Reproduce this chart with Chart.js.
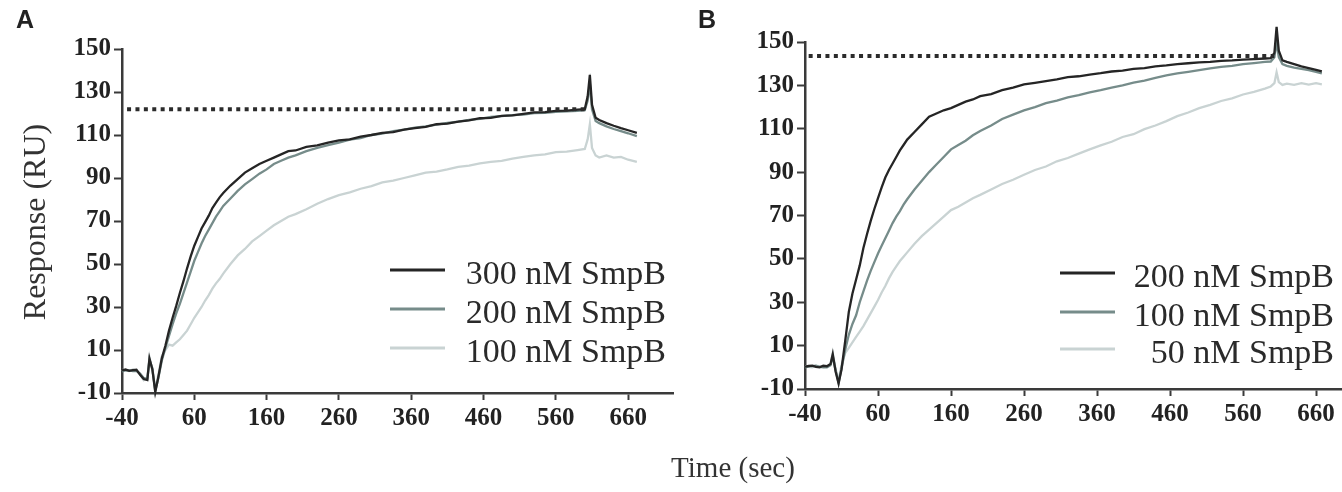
<!DOCTYPE html>
<html>
<head>
<meta charset="utf-8">
<title>SmpB binding sensorgrams</title>
<script src="https://cdn.jsdelivr.net/npm/chart.js@4.4.1/dist/chart.umd.min.js"></script>
<style>
  body { margin: 0; background: #fff; }
  #page { position: relative; width: 1342px; height: 492px; overflow: hidden; font-family: 'Liberation Serif', serif; color: #2a2a2a; }
  canvas { position: absolute; top: 0; }
  #chartA { left: 0; }
  #chartB { left: 690px; }
  .panel { position: absolute; top: 7px; font: bold 25px 'Liberation Sans', Arial, sans-serif; line-height: 1; color: #222; }
  #ylab { position: absolute; left: 34px; top: 222px; transform: translate(-50%, -50%) rotate(-90deg); font-size: 32px; line-height: 1; white-space: nowrap; color: #333; }
  #xlab { position: absolute; left: 733px; top: 453px; transform: translateX(-50%); font-size: 29px; line-height: 1; white-space: nowrap; color: #333; }
</style>
</head>
<body>
<div id="page">
  <canvas id="chartA" width="700" height="492"></canvas>
  <canvas id="chartB" width="652" height="492"></canvas>
  <div class="panel" style="left:16px">A</div>
  <div class="panel" style="left:698px">B</div>
  <div id="ylab">Response (RU)</div>
  <div id="xlab">Time (sec)</div>
</div>
<script>
// tick labels shared by both panels
const xTicks = [-40, 60, 160, 260, 360, 460, 560, 660];
const yTicks = [-10, 10, 30, 50, 70, 90, 110, 130, 150];

// Panel A: time (sec) and response (RU)
const timeA = [-40, -35, -30, -25, -20, -15, -10, -5, -2, 2, 6, 10, 15, 20, 25, 30, 35, 40, 45, 50,
  55, 60, 65, 70, 75, 80, 85, 90, 95, 100, 110, 120, 130, 140, 150, 160, 170, 180, 190, 200,
  215, 230, 245, 260, 275, 290, 305, 320, 335, 350, 365, 380, 395, 410, 425, 440, 455, 470, 485, 500,
  515, 530, 545, 560, 575, 590, 600, 604, 607, 610, 615, 620, 630, 640, 650, 660, 672];
const smpb300A = [0.5, 0.9, 0.3, 0.6, 0.8, -1.5, -3.5, -4, 6, 1, -9.5, -3, 6, 12, 19, 25, 30.5, 36.5, 42, 48,
  53.5, 58.5, 62.5, 66.5, 69.5, 72.5, 76, 78.5, 81, 83, 86.5, 89.5, 92.5, 94.5, 96.5, 98, 99.5, 101, 102.5, 102.8,
  104.5, 105.2, 106.5, 107.5, 108, 109.2, 110, 111, 111.3, 112.5, 113.2, 113.8, 115, 115.3, 116.2, 116.8, 117.8, 118, 118.9, 119.1,
  119.8, 120.5, 120.6, 121.2, 121.3, 121.8, 122, 128, 138, 124, 118, 117, 115.5, 114.3, 113.2, 112.2, 111];
const smpb200A = [0, 0.6, 0.5, 0.2, 0.3, -1, -3, -3.5, 5.5, 1.5, -9, -3.5, 5, 11, 16.5, 22, 27, 31.5, 36.5, 41.5,
  46.5, 51.5, 55.5, 59.5, 63, 66, 69, 72, 74.5, 77, 80.5, 84, 87, 89.5, 92, 94, 96.5, 98, 99.5, 100.5,
  102.5, 104, 105.3, 106.5, 107.8, 108.5, 110, 110.6, 111.8, 112.5, 113.4, 114, 114.8, 115.6, 116.2, 117, 117.5, 118.4, 118.8, 119.2,
  119.5, 120.2, 120.3, 120.8, 121, 121.2, 121.5, 126, 134, 122, 116.5, 115.5, 114, 112.8, 111.8, 110.8, 109.5];
const smpb100A = [0.8, 0.4, 0.2, 0.9, 0.5, -1.2, -4, -3, 6.5, 0.5, -8.5, -2, 7, 10, 12.5, 12, 13.5, 15, 17, 19,
  22, 25, 27.5, 30, 33, 35.5, 38.5, 41, 43, 45.5, 50, 54, 57, 60.5, 63, 65.5, 68, 70, 72, 73.2,
  75.5, 78, 80.2, 82, 83.3, 85, 86.2, 88, 88.8, 90, 91.2, 92.5, 93, 94, 95.2, 95.8, 96.8, 97.5, 98, 99,
  99.8, 100.5, 101, 102, 102.3, 103, 103.5, 108, 115, 104, 100.5, 99.5, 100.5, 99.5, 99.8, 98.5, 97.5];
const plateauA = 122;

// Panel B: time (sec) and response (RU)
const timeB = [-40, -35, -30, -25, -20, -15, -10, -5, -2, 2, 6, 10, 15, 20, 25, 30, 35, 40, 45, 50,
  55, 60, 65, 70, 75, 80, 85, 90, 95, 100, 110, 120, 130, 140, 150, 160, 170, 180, 190, 200,
  215, 230, 245, 260, 275, 290, 305, 320, 335, 350, 365, 380, 395, 410, 425, 440, 455, 470, 485, 500,
  515, 530, 545, 560, 575, 590, 598, 603, 606, 609, 614, 620, 630, 640, 650, 660, 668];
const smpb200B = [0.3, 0.6, 0.8, 0.2, 0, 0.7, 0.5, 1.5, 6, -2, -7.5, -1, 12, 25.5, 34, 40.5, 47, 55, 61.5, 67.5,
  73, 78, 83, 87.5, 91, 94, 97, 100, 102.5, 105, 108.5, 112, 115.5, 117, 118.5, 119.5, 121, 122.5, 123.5, 125,
  126, 127.8, 129, 130.5, 131.2, 132, 132.8, 133.8, 134.2, 135, 135.6, 136.4, 136.8, 137.6, 138, 138.8, 139.2, 139.8, 140.2, 140.6,
  140.8, 141.3, 141.5, 141.9, 142.1, 142.4, 142.6, 145, 157, 146, 141.5, 140.8, 139.8, 138.8, 138, 137.2, 136.5];
const smpb100B = [0, 0.4, 0.5, 0.8, 0.2, 0, 0, 1, 5, -1.5, -7, -0.5, 8, 15, 20, 24, 30, 35, 40, 44.5,
  48.5, 52.5, 56, 59.5, 63, 66.5, 69.5, 72, 75, 77.5, 82, 86, 90, 93.5, 97, 100.5, 102.5, 104.5, 107, 109,
  111.5, 114.5, 116.5, 118.5, 120, 121.8, 123, 124.5, 125.5, 126.8, 127.8, 129, 130, 131.3, 132.2, 133.5, 134.6, 135.5, 136.2, 137,
  137.8, 138.5, 139, 139.8, 140.3, 140.8, 141, 143, 150, 143, 139.8, 139, 138.2, 137.6, 137, 136.2, 135.5];
const smpb50B = [0.5, 0.2, 0, 0.6, 0.5, 0.1, 0.3, 1.5, 6.5, -1, -6, 1, 6.5, 9, 11.5, 14, 16.5, 19, 22, 25,
  28, 31, 34.5, 37.5, 41, 44, 46.5, 49, 51, 53, 57, 60.5, 63.5, 66.5, 69.5, 72.5, 74, 76, 78, 79.5,
  82, 84.5, 86.5, 88.8, 91, 92.6, 95, 96.5, 98.5, 100.5, 102.3, 104, 106.2, 107.5, 109.8, 111.5, 113.5, 115.8, 117.5, 119.5,
  121, 122.8, 124, 125.8, 127, 128.5, 129.5, 131, 136, 131.5, 130.2, 130.8, 130.2, 131, 130.4, 131, 130.5];
const plateauB = 143.5;

const dark = '#252525';
const mid = '#768c8a';
const light = '#c9d3d3';
const axisColor = '#3a3a3a';
const tickFont = { family: 'Liberation Serif', size: 25, weight: 'bold' };

function pts(t, v) {
  return t.map((x, i) => ({ x: x, y: v[i] }));
}

// draws the legend inside the plot, text right aligned like the figure
const insideLegend = {
  id: 'insideLegend',
  afterDatasetsDraw(chart, args, opts) {
    const ctx = chart.ctx;
    ctx.save();
    ctx.font = '34px "Liberation Serif"';
    ctx.textAlign = 'right';
    ctx.textBaseline = 'middle';
    chart.data.datasets.filter(d => d.label).forEach((d, i) => {
      const y = opts.rows[i];
      ctx.strokeStyle = d.borderColor;
      ctx.lineWidth = 3;
      ctx.beginPath();
      ctx.moveTo(opts.lineStart, y);
      ctx.lineTo(opts.lineEnd, y);
      ctx.stroke();
      ctx.fillStyle = '#2a2a2a';
      ctx.fillText(d.label, opts.textRight, y + 5);
    });
    ctx.restore();
  }
};

function makeChart(id, sets, plateau, xMax, box, legend) {
  const datasets = [
    { label: '', data: [{ x: plateau.from, y: plateau.y }, { x: plateau.to, y: plateau.y }],
      borderColor: '#2b2b2b', borderWidth: 4, borderDash: [4, 4.4] }
  ].concat(sets.map(s => ({ label: s.label, data: s.data, borderColor: s.color, borderWidth: 2.3 })));
  datasets.forEach(d => { d.pointRadius = 0; d.tension = 0; d.clip = false; });

  return new Chart(document.getElementById(id), {
    type: 'line',
    data: { datasets: datasets },
    options: {
      responsive: false,
      animation: false,
      layout: { padding: { top: box.top, right: box.right, left: 0, bottom: 0 } },
      plugins: { legend: { display: false }, tooltip: { enabled: false }, insideLegend: legend },
      scales: {
        x: {
          type: 'linear', min: -40, max: xMax,
          afterBuildTicks: s => { s.ticks = xTicks.map(v => ({ value: v })); },
          afterFit: s => { s.height = box.xHeight; },
          ticks: { font: tickFont, color: '#222', padding: 4, maxRotation: 0, autoSkip: false },
          grid: { drawOnChartArea: false, tickLength: 7, tickWidth: 2, tickColor: axisColor },
          border: { color: axisColor, width: 2.5 }
        },
        y: {
          type: 'linear', min: -10, max: 150,
          afterBuildTicks: s => { s.ticks = yTicks.map(v => ({ value: v })); },
          afterFit: s => { s.width = box.yWidth; },
          ticks: { font: tickFont, color: '#222', padding: 3 },
          grid: { drawOnChartArea: false, tickLength: 8, tickWidth: 2, tickColor: axisColor },
          border: { color: axisColor, width: 2.5 }
        }
      }
    },
    plugins: [insideLegend]
  });
}

makeChart('chartA', [
  { label: '300 nM SmpB', data: pts(timeA, smpb300A), color: dark },
  { label: '200 nM SmpB', data: pts(timeA, smpb200A), color: mid },
  { label: '100 nM SmpB', data: pts(timeA, smpb100A), color: light }
], { y: plateauA, from: -33, to: 602 }, 722,
  { top: 49, right: 27, xHeight: 99, yWidth: 122 },
  { lineStart: 390, lineEnd: 445, textRight: 666, rows: [270, 309, 348] });

makeChart('chartB', [
  { label: '200 nM SmpB', data: pts(timeB, smpb200B), color: dark },
  { label: '100 nM SmpB', data: pts(timeB, smpb100B), color: mid },
  { label: '50 nM SmpB', data: pts(timeB, smpb50B), color: light }
], { y: plateauB, from: -35, to: 603 }, 695.6,
  { top: 42, right: 0, xHeight: 103, yWidth: 115 },
  { lineStart: 370, lineEnd: 425, textRight: 644, rows: [273, 312, 349] });
</script>
</body>
</html>
